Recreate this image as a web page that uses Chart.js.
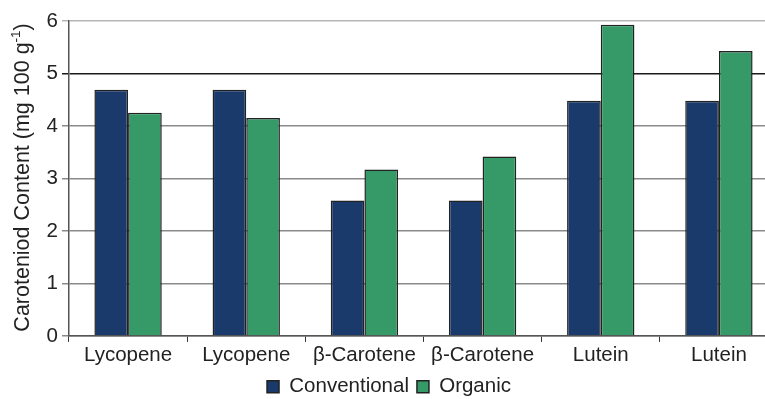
<!DOCTYPE html>
<html>
<head>
<meta charset="utf-8">
<script src="https://cdn.jsdelivr.net/npm/chart.js@4"></script>
<style>
  html, body { margin: 0; padding: 0; background: #fff; overflow: hidden; }
  #wrap { width: 778px; height: 399px; }
</style>
</head>
<body>
<div id="wrap"><canvas id="carotenoids"></canvas></div>
<script>
// categories along the x axis
var categories = ['Lycopene', 'Lycopene', '\u03B2-Carotene', '\u03B2-Carotene', 'Lutein', 'Lutein'];

// mg 100 g-1
var conventional = [4.69, 4.69, 2.58, 2.58, 4.48, 4.48];
var organic = [4.25, 4.15, 3.17, 3.42, 5.93, 5.43];

var yTicks = [0, 1, 2, 3, 4, 5, 6];

var navy = '#1a3a6b';
var green = '#359a67';
var fontSize = 20.5;

// rotated y title, drawn by hand so the -1 can sit raised
var yTitle = {
  id: 'yTitle',
  afterDraw: function(chart) {
    var ctx = chart.ctx;
    var area = chart.chartArea;
    var main = 'Caroteniod Content (mg 100 g';
    var sup = '-1';
    var end = ')';
    var big = '21.5px "Liberation Sans", Arial, sans-serif';
    var small = '13.5px "Liberation Sans", Arial, sans-serif';
    ctx.save();
    ctx.fillStyle = '#222';
    ctx.textBaseline = 'middle';
    ctx.font = big;
    var w1 = ctx.measureText(main).width;
    var w3 = ctx.measureText(end).width;
    ctx.font = small;
    var w2 = ctx.measureText(sup).width;
    var total = w1 + w2 + w3;
    var cy = (area.top + area.bottom) / 2 - 1;
    ctx.translate(23, cy);
    ctx.rotate(-Math.PI / 2);
    var x = -total / 2;
    ctx.textAlign = 'left';
    ctx.font = big;
    ctx.fillText(main, x, 0);
    ctx.font = small;
    ctx.fillText(sup, x + w1, -7);
    ctx.font = big;
    ctx.fillText(end, x + w1 + w2, 0);
    ctx.restore();
  }
};

var data = {
  labels: categories,
  datasets: [{
    label: 'Conventional',
    data: conventional,
    backgroundColor: navy,
    borderColor: '#222',
    borderWidth: 1.5
  }, {
    label: 'Organic',
    data: organic,
    backgroundColor: green,
    borderColor: '#222',
    borderWidth: 1.5
  }]
};

Chart.defaults.font.family = '"Liberation Sans", Arial, sans-serif';
Chart.defaults.color = '#222';

var myChart = new Chart(document.getElementById('carotenoids').getContext('2d'), {
  type: 'bar',
  data: data,
  plugins: [yTitle],
  options: {
    responsive: true,
    maintainAspectRatio: false,
    animation: false,
    layout: { padding: { top: 21, right: 0, bottom: -8, left: 0 } },
    datasets: {
      bar: { barPercentage: 1.0, categoryPercentage: 0.57 }
    },
    plugins: {
      legend: {
        position: 'bottom',
        labels: {
          boxWidth: 12,
          boxHeight: 12,
          padding: 8,
          font: { size: fontSize },
          color: '#222'
        }
      },
      tooltip: { enabled: false }
    },
    scales: {
      x: {
        offset: true,
        grid: {
          offset: true,
          drawOnChartArea: false,
          drawTicks: true,
          tickLength: 6,
          color: '#333'
        },
        border: { color: '#555', width: 1.5 },
        ticks: { font: { size: fontSize }, color: '#222', padding: 1, maxRotation: 0 }
      },
      y: {
        min: 0,
        max: 6,
        afterBuildTicks: function(scale) {
          scale.ticks = yTicks.map(function(v) { return { value: v }; });
        },
        afterFit: function(scale) { scale.width = 69; },
        grid: {
          tickLength: 7,
          lineWidth: 1.5,
          color: function(c) {
            if (c.tick.value === 5) return '#1a1a1a';
            if (c.tick.value === 6) return '#b5b5b5';
            return '#8a8a8a';
          }
        },
        border: { color: '#555', width: 1.5 },
        ticks: { font: { size: fontSize }, color: '#222', padding: 4 }
      }
    }
  }
});
</script>
</body>
</html>
